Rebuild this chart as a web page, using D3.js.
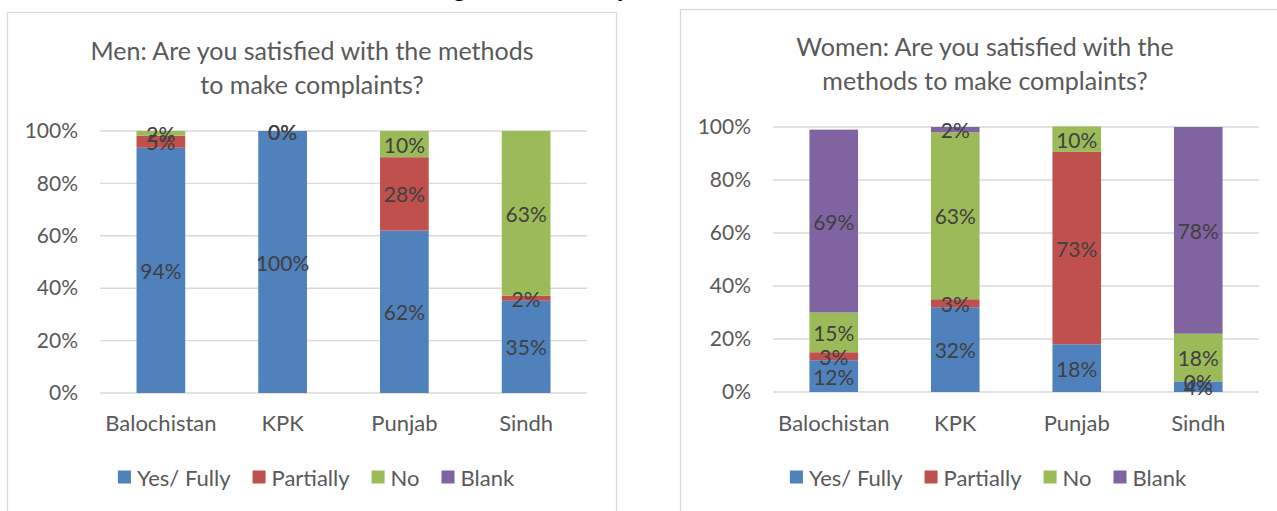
<!DOCTYPE html>
<html>
<head>
<meta charset="utf-8">
<script src="https://cdn.jsdelivr.net/npm/d3@7"></script>
<style>
  html, body { margin: 0; padding: 0; background: #fff; }
  svg { display: block; }
  text { font-family: Lato, "Open Sans", sans-serif; }
</style>
</head>
<body>
<svg id="chart" width="1277" height="511"></svg>
<script>
// ---------- data ----------
const categories = ["Balochistan", "KPK", "Punjab", "Sindh"];
const seriesNames = ["Yes/ Fully", "Partially", "No", "Blank"];
const seriesColors = ["#4F81BD", "#C0504D", "#9BBB59", "#8064A2"];
const yTicks = [0, 20, 40, 60, 80, 100];

const menYes       = [93.6, 100, 62, 35.2];
const menPartially = [4.6, 0, 28, 1.9];
const menNo        = [1.8, 0, 10, 62.9];
const menBlank     = [null, null, null, null];

const womenYes       = [12, 32, 18, 4];
const womenPartially = [3, 3, 72.6, 0];
const womenNo        = [15, 63, 9.6, 18];
const womenBlank     = [69, 2, null, 78];

const menTitle = ["Men: Are you satisfied with the methods", "to make complaints?"];
const womenTitle = ["Women: Are you satisfied with the", "methods to make complaints?"];

// ---------- drawing ----------
const svg = d3.select("#chart");
const FONT = "Lato, 'Open Sans', sans-serif";

// cut-off heading at the very top (only descenders visible)
svg.append("text").attr("x", 453).attr("y", -3).attr("font-weight", "bold")
  .attr("font-size", 26).attr("fill", "#000").text("g");
svg.append("text").attr("x", 617).attr("y", -3).attr("font-weight", "bold")
  .attr("font-size", 26).attr("fill", "#000").text("p");

function drawChart(cfg) {
  const g = svg.append("g");
  // frame
  g.append("rect")
    .attr("x", cfg.box[0]).attr("y", cfg.box[1])
    .attr("width", cfg.box[2]).attr("height", cfg.box[3])
    .attr("fill", "#fff").attr("stroke", "#d9d9d9").attr("stroke-width", 1.2);

  // title
  cfg.title.forEach((line, i) => {
    g.append("text")
      .attr("x", cfg.titleX).attr("y", cfg.titleY + i * 34)
      .attr("text-anchor", "middle").attr("dominant-baseline", "central")
      .attr("font-size", 25).attr("fill", "#595959").text(line);
  });

  const x = d3.scaleBand().domain(categories).range([cfg.x0, cfg.x1])
    .paddingInner(0.6).paddingOuter(0.3);
  const y = d3.scaleLinear().domain([0, 100]).range([cfg.y0, cfg.y1]);

  // gridlines
  g.append("g").selectAll("line").data(yTicks).join("line")
    .attr("x1", cfg.x0).attr("x2", cfg.x1)
    .attr("y1", d => y(d)).attr("y2", d => y(d))
    .attr("stroke", "#d9d9d9").attr("stroke-width", 1.4);

  // y axis labels
  const yAxis = d3.axisLeft(y).tickValues(yTicks).tickFormat(d => d + "%").tickSize(0).tickPadding(0);
  const ya = g.append("g").attr("transform", `translate(${cfg.yLabelX},0)`).call(yAxis);
  ya.select(".domain").remove();
  ya.selectAll("text").attr("font-size", 21).attr("fill", "#595959").attr("font-family", FONT);

  // x axis labels
  const xAxis = d3.axisBottom(x).tickSize(0).tickPadding(0);
  const xa = g.append("g").attr("transform", `translate(0,${cfg.catY})`).call(xAxis);
  xa.select(".domain").remove();
  xa.selectAll("text").attr("font-size", 22).attr("fill", "#595959")
    .attr("dy", "0.35em").attr("font-family", FONT);

  // stacked data
  const rows = categories.map((c, i) => {
    const r = { cat: c };
    seriesNames.forEach((s, k) => { r[s] = cfg.series[k][i]; });
    return r;
  });
  const stack = d3.stack().keys(seriesNames).value((d, key) => d[key] == null ? 0 : d[key]);
  const layers = stack(rows);

  const lg = g.append("g");
  layers.forEach((layer, k) => {
    lg.selectAll(null).data(layer.filter(d => d.data[layer.key] != null)).join("rect")
      .attr("x", d => x(d.data.cat)).attr("width", x.bandwidth())
      .attr("y", d => y(d[1])).attr("height", d => y(d[0]) - y(d[1]))
      .attr("fill", seriesColors[k]);
  });
  // labels
  layers.forEach((layer, k) => {
    lg.selectAll(null).data(layer.filter(d => d.data[layer.key] != null)).join("text")
      .attr("x", d => x(d.data.cat) + x.bandwidth() / 2)
      .attr("y", d => y((d[0] + d[1]) / 2))
      .attr("text-anchor", "middle").attr("dominant-baseline", "central")
      .attr("font-size", 21).attr("fill", "#404040")
      .text(d => Math.round(d.data[layer.key]) + "%");
  });

  // legend
  const leg = g.append("g");
  const items = leg.selectAll("g").data(seriesNames).join("g");
  items.append("rect").attr("width", 13).attr("height", 13)
    .attr("y", cfg.legY - 6.5).attr("fill", (d, i) => seriesColors[i]);
  items.append("text").attr("x", 19).attr("y", cfg.legY)
    .attr("dominant-baseline", "central").attr("font-size", 22).attr("fill", "#595959")
    .text(d => d);
  let cx = 0;
  const offsets = [];
  items.each(function () {
    offsets.push(cx);
    const w = d3.select(this).select("text").node().getComputedTextLength();
    cx += 19 + w + 22;
  });
  const total = cx - 22;
  const start = cfg.legCenter - total / 2;
  items.attr("transform", (d, i) => `translate(${start + offsets[i]},0)`);
}

drawChart({
  box: [7.5, 12.5, 609, 520],
  title: menTitle, titleX: 312, titleY: 50,
  x0: 100, x1: 587, y0: 393, y1: 131, yLabelX: 78,
  catY: 423, legY: 477, legCenter: 316,
  series: [menYes, menPartially, menNo, menBlank]
});

drawChart({
  box: [680.5, 9.5, 620, 520],
  title: womenTitle, titleX: 985, titleY: 46,
  x0: 773, x1: 1259, y0: 392, y1: 127, yLabelX: 751,
  catY: 423, legY: 477, legCenter: 988,
  series: [womenYes, womenPartially, womenNo, womenBlank]
});
</script>
</body>
</html>
